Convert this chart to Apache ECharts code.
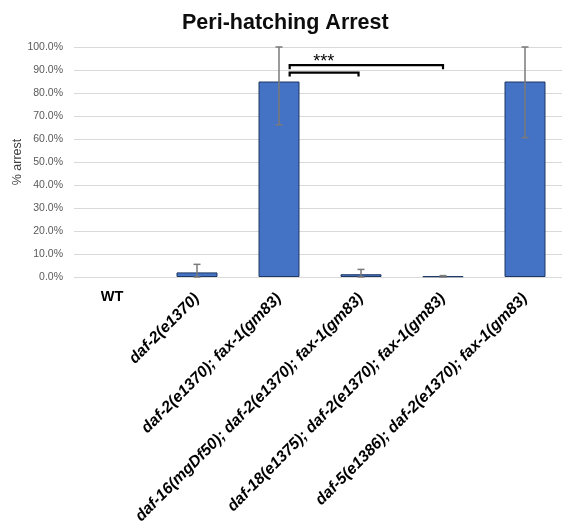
<!DOCTYPE html>
<html>
<head>
<meta charset="utf-8">
<script src="https://cdn.jsdelivr.net/npm/echarts@6/dist/echarts.min.js"></script>
<style>
  html, body { margin: 0; padding: 0; background: #fff; }
  #chart { width: 562px; height: 524px; }
</style>
</head>
<body>
<div id="chart"></div>
<script>
// Strains on the x axis
const strains = [
  'WT',
  'daf-2(e1370)',
  'daf-2(e1370); fax-1(gm83)',
  'daf-16(mgDf50); daf-2(e1370); fax-1(gm83)',
  'daf-18(e1375); daf-2(e1370); fax-1(gm83)',
  'daf-5(e1386); daf-2(e1370); fax-1(gm83)'
];
// Mean percent arrest and its error (percent)
const arrestPct = [0, 2.0, 85.0, 1.2, 0.3, 85.0];
const arrestErr = [0, 3.5, 18.8, 2.1, 0.3, 24.4];
// Y axis ticks
const yTicks = { min: 0, max: 100, step: 10 };
// Significance brackets: from strain index (offset inside band) to strain index, height in %
const brackets = [
  { from: 2, fromShift: 0.13, to: 4, toShift: 0, level: 92.1 },
  { from: 2, fromShift: 0.13, to: 3, toShift: -0.03, level: 88.9 }
];
const sigLabel = '***';

const chart = echarts.init(document.getElementById('chart'));

const errorData = arrestPct.map((v, i) => [i, v, arrestErr[i]]);
const bracketData = brackets.map(b => [b.from, b.fromShift, b.to, b.toShift, b.level]);
// a zero-height bar draws nothing at all
const barData = arrestPct.map(v => (v > 0 ? v : { value: v, itemStyle: { borderWidth: 0 } }));

chart.setOption({
  animation: false,
  title: {
    text: 'Peri-hatching Arrest',
    left: 177,
    top: 7,
    textStyle: { fontFamily: 'Liberation Sans, Arial', fontSize: 21.5, fontWeight: 'bold', color: '#0d0d0d' }
  },
  grid: { left: 74, width: 492, top: 47, bottom: 247, containLabel: false, outerBoundsMode: 'none' },
  xAxis: [
    {
      type: 'category',
      data: strains,
      axisLine: { show: false },
      axisTick: { show: false },
      axisLabel: {
        interval: 0,
        rotate: 45,
        margin: 19,
        fontFamily: 'Liberation Sans, Arial',
        fontSize: 15.8,
        fontWeight: 'bold',
        fontStyle: 'italic',
        color: '#000',
        hideOverlap: false,
        formatter: v => (v === 'WT' ? '' : v)
      }
    },
    {
      type: 'category',
      data: strains,
      position: 'bottom',
      gridIndex: 0,
      axisLine: { show: false },
      axisTick: { show: false },
      axisLabel: {
        interval: 0,
        margin: 12,
        padding: [0, 6, 0, 0],
        fontFamily: 'Liberation Sans, Arial',
        fontSize: 14.5,
        fontWeight: 'bold',
        color: '#000',
        formatter: v => (v === 'WT' ? v : '')
      }
    }
  ],
  yAxis: {
    type: 'value',
    min: yTicks.min,
    max: yTicks.max,
    interval: yTicks.step,
    name: '% arrest',
    nameLocation: 'middle',
    nameGap: 50,
    nameMoveOverlap: false,
    nameTextStyle: { fontFamily: 'Liberation Sans, Arial', fontSize: 12.5, color: '#404040' },
    axisLine: { show: false },
    axisTick: { show: false },
    axisLabel: {
      margin: 11,
      fontFamily: 'Liberation Sans, Arial',
      fontSize: 10.5,
      color: '#595959',
      formatter: v => v.toFixed(1) + '%'
    },
    splitLine: { lineStyle: { color: '#d9d9d9', width: 1 } }
  },
  series: [
    {
      type: 'bar',
      xAxisIndex: 0,
      data: barData,
      barWidth: '50%',
      itemStyle: { color: '#4472c4', borderColor: '#1f3864', borderWidth: 1 }
    },
    {
      type: 'custom',
      xAxisIndex: 0,
      data: errorData,
      z: 5,
      renderItem: function (params, api) {
        const i = api.value(0);
        const mean = api.value(1);
        const err = api.value(2);
        const hi = Math.min(mean + err, yTicks.max);
        const lo = Math.max(mean - err, yTicks.min);
        if (err <= 0) return null;
        const top = api.coord([i, hi]);
        const bot = api.coord([i, lo]);
        const cap = 3.5;
        const style = { stroke: '#7a7a7a', lineWidth: 1.5 };
        return {
          type: 'group',
          children: [
            { type: 'line', shape: { x1: top[0], y1: top[1], x2: bot[0], y2: bot[1] }, style },
            { type: 'line', shape: { x1: top[0] - cap, y1: top[1], x2: top[0] + cap, y2: top[1] }, style },
            { type: 'line', shape: { x1: bot[0] - cap, y1: bot[1], x2: bot[0] + cap, y2: bot[1] }, style }
          ]
        };
      }
    },
    {
      type: 'custom',
      xAxisIndex: 0,
      data: bracketData,
      z: 6,
      renderItem: function (params, api) {
        const band = api.size([1, 0])[0];
        const left = api.coord([api.value(0), api.value(4)]);
        const right = api.coord([api.value(2), api.value(4)]);
        const x1 = left[0] + api.value(1) * band;
        const x2 = right[0] + api.value(3) * band;
        const y = left[1];
        const drop = 4;
        const style = { stroke: '#000', lineWidth: 2.2, fill: null };
        const children = [
          { type: 'polyline', shape: { points: [[x1, y + drop], [x1, y], [x2, y], [x2, y + drop]] }, style }
        ];
        if (params.dataIndex === 0) {
          children.push({
            type: 'text',
            style: {
              text: sigLabel,
              x: x1 + 34,
              y: y + 6,
              align: 'center',
              verticalAlign: 'bottom',
              fontFamily: 'Liberation Sans, Arial',
              fontSize: 18,
              fill: '#000'
            }
          });
        }
        return { type: 'group', children };
      }
    }
  ]
});
</script>
</body>
</html>
